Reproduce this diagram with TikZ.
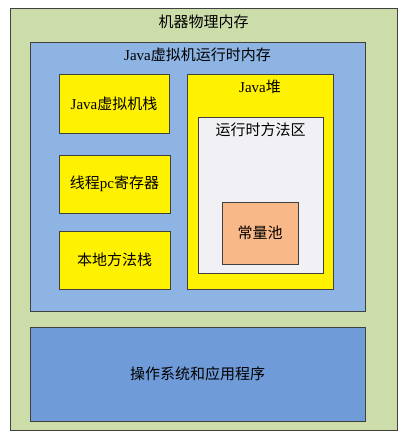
\documentclass[tikz,border=0pt]{standalone}
\usepackage{fontspec}
\setmainfont{Liberation Serif}
\newfontfamily\cjk{Noto Sans CJK SC}
\definecolor{machine}{HTML}{CCDDAA}
\definecolor{jvm}{HTML}{8DB4E2}
\definecolor{osblue}{HTML}{6F9BD8}
\definecolor{area}{HTML}{F1F0F4}
\definecolor{pool}{HTML}{F9B888}
\tikzset{box/.style={line width=0.8pt, shape=rectangle, draw=black!75}}
\begin{document}
\begin{tikzpicture}[x=1pt,y=-1pt,font=\fontsize{15}{18}\selectfont]
\useasboundingbox (0,0) rectangle (413,435);
\node[box, fill=machine, minimum width=387pt, minimum height=422pt, label={[anchor=center,yshift=-14pt]north:{\cjk 机器物理内存}}](0) at (203.5,219) {};
\node[box, fill=jvm, minimum width=335pt, minimum height=269pt, label={[anchor=center,yshift=-13pt]north:{Java{\cjk 虚拟机运行时内存}}}](1) at (197.5,176.5) {};
\node[box, fill=yellow, minimum width=110pt, minimum height=59pt](2) at (114,103.5) {Java{\cjk 虚拟机栈}};
\node[box, fill=yellow, minimum width=111pt, minimum height=58pt](3) at (114.5,184) {{\cjk 线程}pc{\cjk 寄存器}};
\node[box, fill=yellow, minimum width=111pt, minimum height=58pt](4) at (114.5,260) {\cjk 本地方法栈};
\node[box, fill=yellow, minimum width=146pt, minimum height=215pt, label={[anchor=center,yshift=-13pt]north:{Java{\cjk 堆}}}](5) at (260,181.5) {};
\node[box, fill=area, minimum width=125pt, minimum height=156pt, label={[anchor=center,yshift=-13pt]north:{\cjk 运行时方法区}}](6) at (260.5,195) {};
\node[box, fill=pool, minimum width=76pt, minimum height=62pt](7) at (260,233) {\cjk 常量池};
\node[box, fill=osblue, minimum width=335pt, minimum height=94pt](8) at (197.5,374) {\cjk 操作系统和应用程序};
\end{tikzpicture}
\end{document}
